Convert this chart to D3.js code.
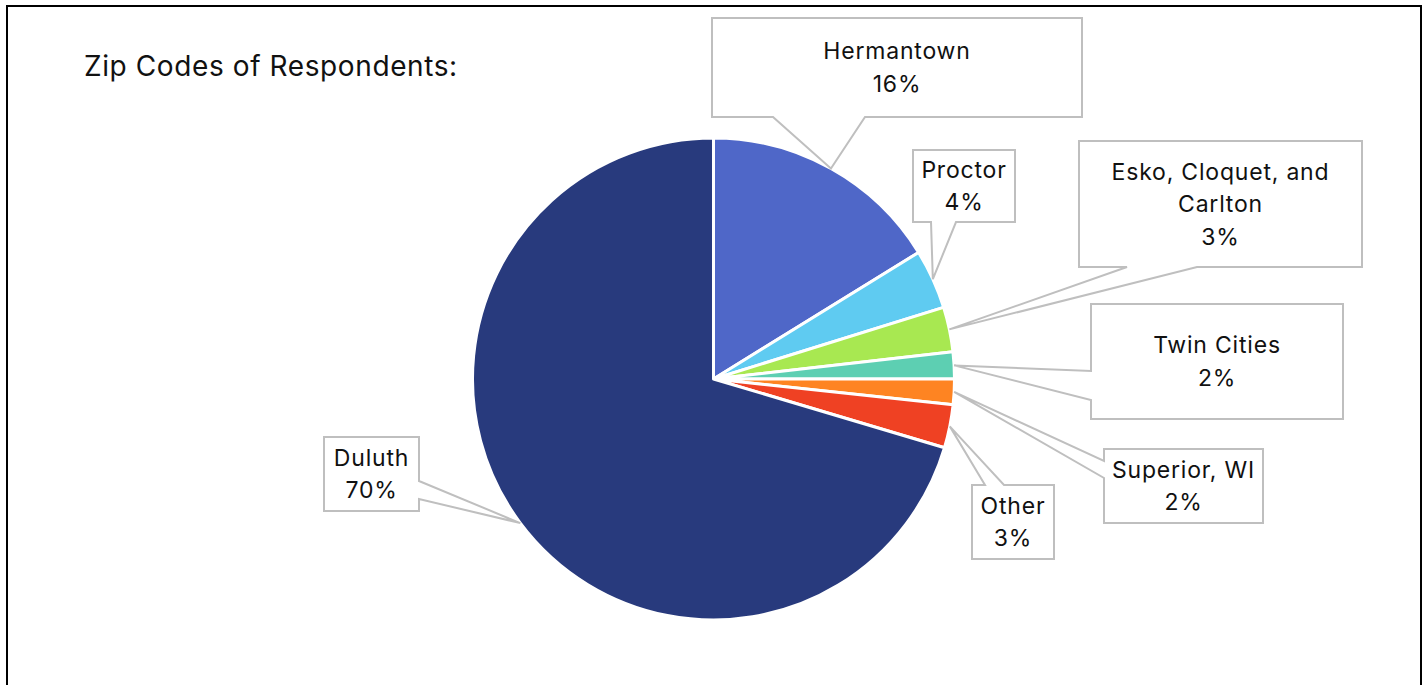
<!DOCTYPE html>
<html>
<head>
<meta charset="utf-8">
<script src="https://cdn.jsdelivr.net/npm/d3@7"></script>
<style>
  html, body { margin: 0; padding: 0; background: #fff; }
  svg { display: block; }
</style>
</head>
<body>
<svg id="chart" width="1427" height="685"></svg>
<script>
// ---- data ----
const title = "Zip Codes of Respondents:";
const categories = ["Hermantown", "Proctor", "Esko, Cloquet, and Carlton", "Twin Cities", "Superior, WI", "Other", "Duluth"];
const labelLines = [["Hermantown"], ["Proctor"], ["Esko, Cloquet, and", "Carlton"], ["Twin Cities"], ["Superior, WI"], ["Other"], ["Duluth"]];
const values = [16.2, 4.0, 3.0, 1.8, 1.7, 2.9, 70.4];
const colors = ["#4f67c8", "#5fcbf1", "#a8e851", "#5dcfb2", "#fe8422", "#ef4123", "#283a7d"];

// ---- layout (callout boxes: x0,y0,x1,y1, side of pointer, base start/end) ----
const boxes = [
  {x0: 712, y0: 18, x1: 1082, y1: 117, side: "bottom", a: 773, b: 865},
  {x0: 913, y0: 150, x1: 1015, y1: 222, side: "bottom", a: 931, b: 956},
  {x0: 1079, y0: 141, x1: 1362, y1: 267, side: "bottom", a: 1127, b: 1197},
  {x0: 1091, y0: 304, x1: 1343, y1: 419, side: "left", a: 371, b: 400},
  {x0: 1104, y0: 449, x1: 1263, y1: 523, side: "left", a: 461, b: 478},
  {x0: 972, y0: 485, x1: 1054, y1: 559, side: "top", a: 985, b: 1004},
  {x0: 324, y0: 437, x1: 419, y1: 511, side: "right", a: 481, b: 499}
];

const svg = d3.select("#chart");
const FONT = "Inter, 'Noto Sans', sans-serif";

// outer border
svg.append("rect")
  .attr("x", 7).attr("y", 6).attr("width", 1414).attr("height", 720)
  .attr("fill", "none").attr("stroke", "#000").attr("stroke-width", 2);

// title
svg.append("text")
  .attr("x", 84).attr("y", 76)
  .attr("font-family", FONT).attr("font-size", 28).attr("fill", "#111")
  .attr("letter-spacing", 0.6)
  .text(title);

const cx = 713.5, cy = 379, R = 241;
const total = d3.sum(values);
const pie = d3.pie().sort(null).value(d => d)(values);
const arc = d3.arc().innerRadius(0).outerRadius(R);

const g = svg.append("g").attr("transform", `translate(${cx},${cy})`);
g.selectAll("path.slice").data(pie).join("path")
  .attr("class", "slice")
  .attr("d", arc)
  .attr("fill", (d, i) => colors[i])
  .attr("stroke", "#fff").attr("stroke-width", 3).attr("stroke-linejoin", "round");

const fmt = d3.format(".0%");

pie.forEach((d, i) => {
  const bx = boxes[i];
  const mid = (d.startAngle + d.endAngle) / 2;
  const tx = cx + R * Math.sin(mid), ty = cy - R * Math.cos(mid);
  const p = d3.path();
  const {x0, y0, x1, y1, a, b} = bx;
  p.moveTo(x0, y0);
  if (bx.side === "top") { p.lineTo(a, y0); p.lineTo(tx, ty); p.lineTo(b, y0); }
  p.lineTo(x1, y0);
  if (bx.side === "right") { p.lineTo(x1, a); p.lineTo(tx, ty); p.lineTo(x1, b); }
  p.lineTo(x1, y1);
  if (bx.side === "bottom") { p.lineTo(b, y1); p.lineTo(tx, ty); p.lineTo(a, y1); }
  p.lineTo(x0, y1);
  if (bx.side === "left") { p.lineTo(x0, b); p.lineTo(tx, ty); p.lineTo(x0, a); }
  p.closePath();
  svg.append("path").attr("d", p.toString())
    .attr("fill", "#fff").attr("stroke", "#bfbfbf").attr("stroke-width", 2);

  const lines = labelLines[i].concat([fmt(d.data / total)]);
  const lh = 32.5;
  const centerY = (y0 + y1) / 2;
  const firstY = centerY - (lines.length - 1) * lh / 2;
  const t = svg.append("text")
    .attr("font-family", FONT).attr("font-size", 23).attr("fill", "#111")
    .attr("letter-spacing", 0.8)
    .attr("text-anchor", "middle");
  lines.forEach((ln, k) => {
    t.append("tspan").attr("x", (x0 + x1) / 2).attr("y", firstY + k * lh + 8).text(ln);
  });
});
</script>
</body>
</html>
